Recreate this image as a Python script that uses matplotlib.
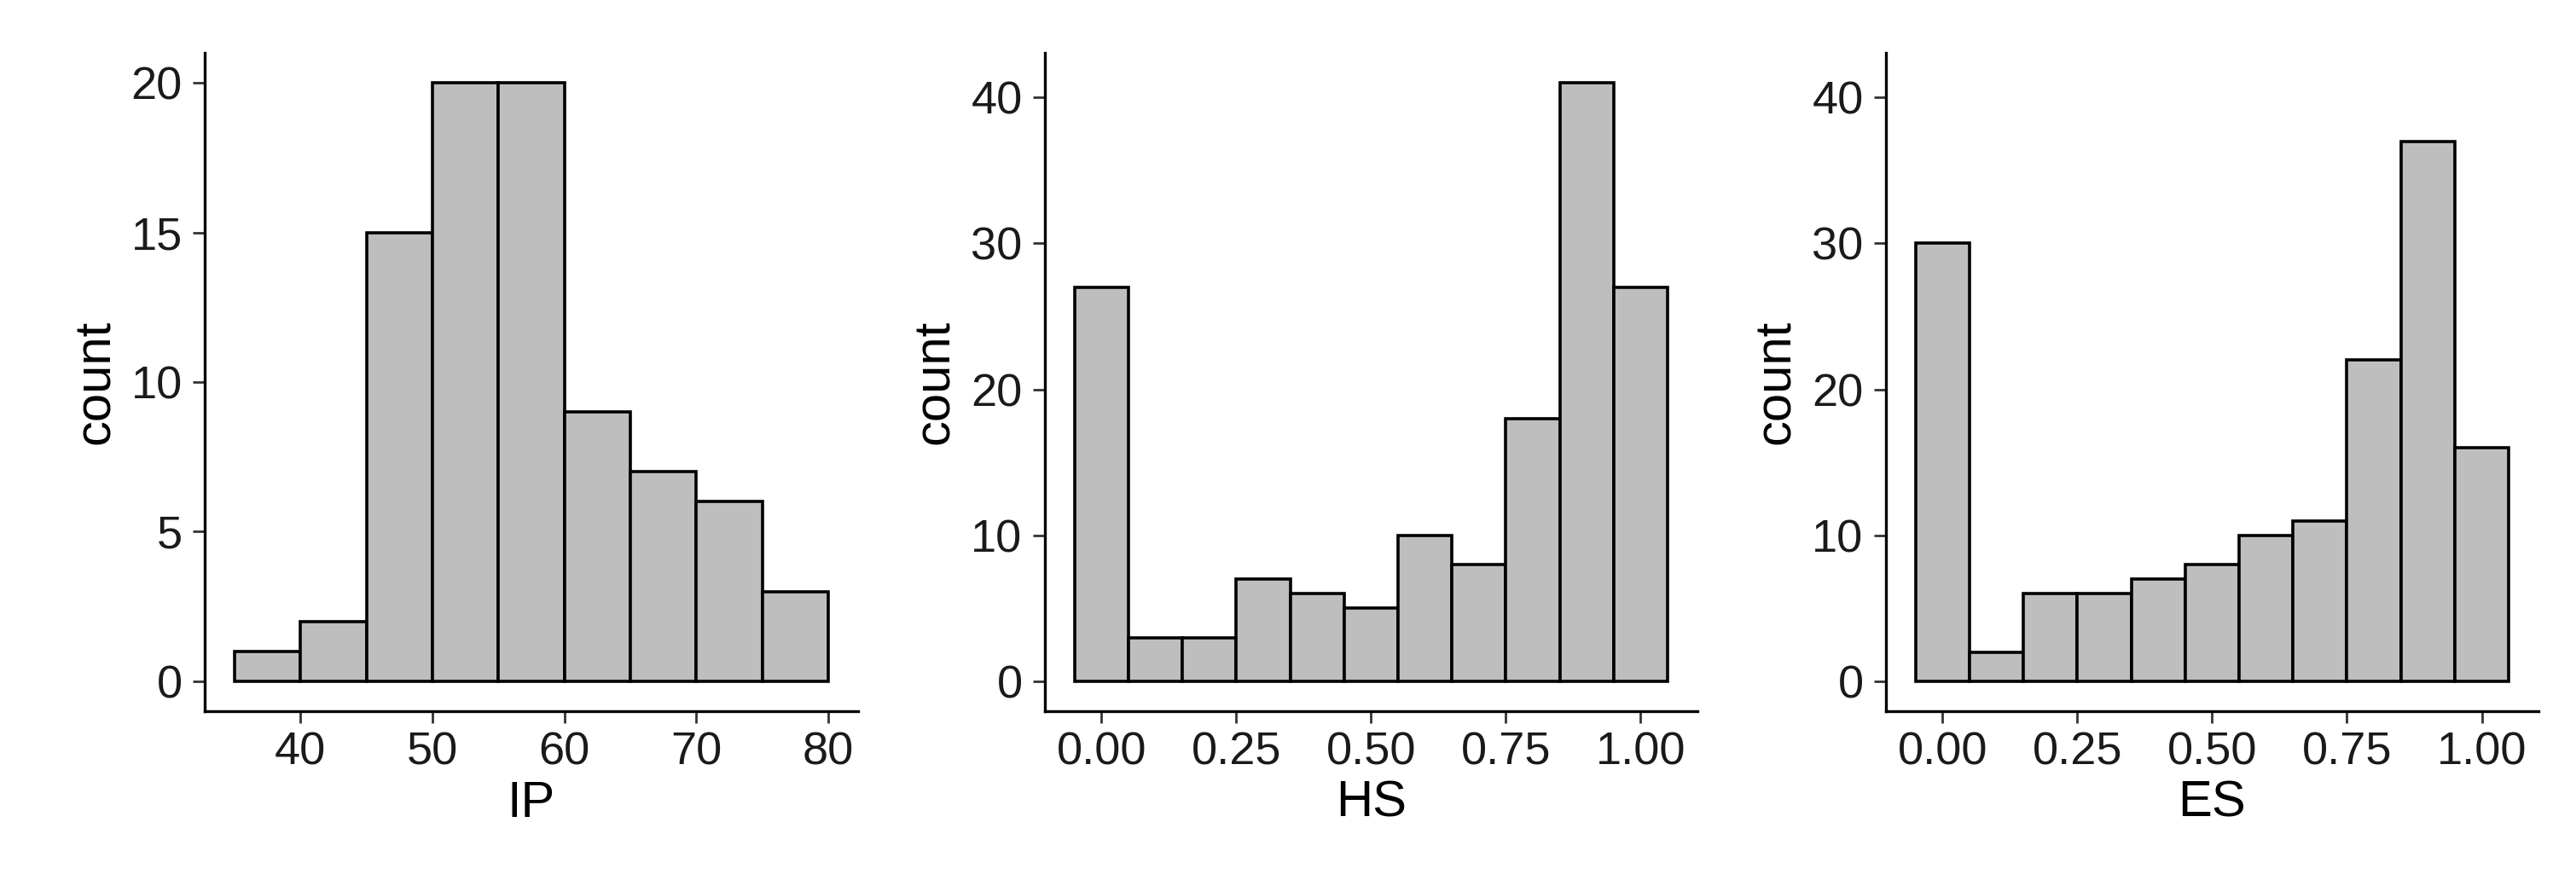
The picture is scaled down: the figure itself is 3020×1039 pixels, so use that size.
import numpy as np
import matplotlib
matplotlib.use("Agg")
import matplotlib.pyplot as plt

plt.rcParams['font.family'] = ['Liberation Sans', 'DejaVu Sans']

# Histogram data (bin centers and counts)
ip_centers = [37.5, 42.5, 47.5, 52.5, 57.5, 62.5, 67.5, 72.5, 77.5]
ip_counts = [1, 2, 15, 20, 20, 9, 7, 6, 3]
ip_width = 5

hs_centers = [0.0, 0.1, 0.2, 0.3, 0.4, 0.5, 0.6, 0.7, 0.8, 0.9, 1.0]
hs_counts = [27, 3, 3, 7, 6, 5, 10, 8, 18, 41, 27]

es_centers = [0.0, 0.1, 0.2, 0.3, 0.4, 0.5, 0.6, 0.7, 0.8, 0.9, 1.0]
es_counts = [30, 2, 6, 6, 7, 8, 10, 11, 22, 37, 16]
frac_width = 0.1

ip_xticks = [40, 50, 60, 70, 80]
frac_xticks = [0.0, 0.25, 0.5, 0.75, 1.0]
ip_yticks = [0, 5, 10, 15, 20]
frac_yticks = [0, 10, 20, 30, 40]

fig = plt.figure(figsize=(30.2, 10.39), dpi=100)

panels = [
    # left, width, centers, counts, bar width, xlabel, xticks, yticks, xlim, ylim, fmt
    (0.0795, 0.2536, ip_centers, ip_counts, ip_width, "IP", ip_xticks, ip_yticks,
     (32.75, 82.25), (-1.0, 21.0), "{:.0f}"),
    (0.4056, 0.2533, hs_centers, hs_counts, frac_width, "HS", frac_xticks, frac_yticks,
     (-0.105, 1.105), (-2.05, 43.05), "{:.2f}"),
    (0.7321, 0.2533, es_centers, es_counts, frac_width, "ES", frac_xticks, frac_yticks,
     (-0.105, 1.105), (-2.05, 43.05), "{:.2f}"),
]

for left, width, centers, counts, bw, xlabel, xt, yt, xl, yl, fmt in panels:
    ax = fig.add_axes([left, 0.1973, width, 0.7430])
    ax.bar(centers, counts, width=bw, color="#bebebe", edgecolor="black",
           linewidth=2.6, align="center")
    ax.set_xlim(*xl)
    ax.set_ylim(*yl)
    ax.set_xticks(xt)
    ax.set_xticklabels([fmt.format(v) for v in xt])
    ax.set_yticks(yt)
    ax.spines['top'].set_visible(False)
    ax.spines['right'].set_visible(False)
    for s in ['left', 'bottom']:
        ax.spines[s].set_linewidth(2.4)
    ax.tick_params(axis='both', length=10, width=2.0, color="#333333",
                   labelsize=39, labelcolor="#1a1a1a")
    ax.tick_params(axis='x', pad=7)
    ax.tick_params(axis='y', pad=9)
    ax.set_xlabel(xlabel, fontsize=43, labelpad=5)
    ax.set_ylabel("count", fontsize=43, labelpad=10)

fig.savefig("out.png", dpi=100)
